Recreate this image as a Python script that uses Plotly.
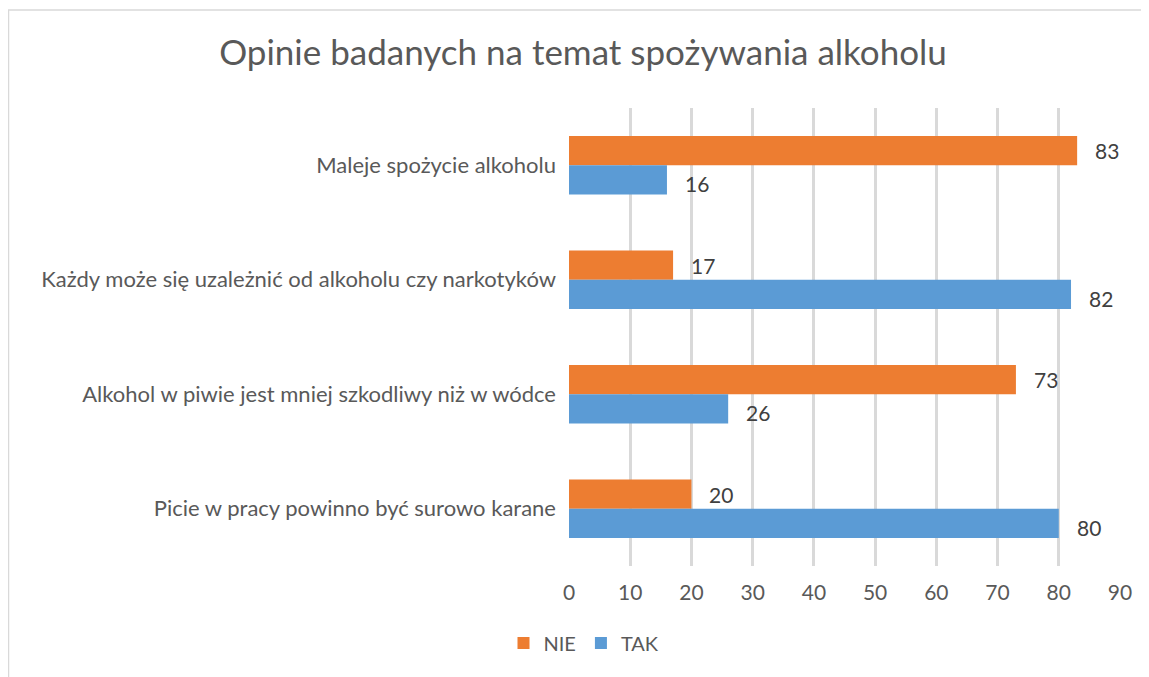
import plotly.graph_objects as go

categories = [
    "Maleje spożycie alkoholu",
    "Każdy może się uzależnić od alkoholu czy narkotyków",
    "Alkohol w piwie jest mniej szkodliwy niż w wódce",
    "Picie w pracy powinno być surowo karane",
]
nie_values = [83, 17, 73, 20]
tak_values = [16, 82, 26, 80]
x_ticks = [0, 10, 20, 30, 40, 50, 60, 70, 80, 90]

FONT = "Lato"
# page body has an 8px margin; figure spans screen 8..1149 x 8..677
W, H = 1141, 669
OX, OY = 8, 8
ml = 569 - OX
mt = 108 - OY
mr = W - (1120 - OX)
mb = H - (566 - OY)
BARGAP = 0.49
half = (1 - BARGAP) / 4

fig = go.Figure()
fig.add_trace(go.Bar(name="NIE", y=categories, x=nie_values, orientation="h",
                     marker=dict(color="#ED7D31", line=dict(width=0))))
fig.add_trace(go.Bar(name="TAK", y=categories, x=tak_values, orientation="h",
                     marker=dict(color="#5B9BD5", line=dict(width=0))))

ann = []
for vals, off, ys in ((nie_values, -half, 0), (tak_values, half, -4)):
    for i, v in enumerate(vals):
        ann.append(dict(x=v, y=i + off, xref="x", yref="y", text=str(v), showarrow=False,
                        xanchor="center", yanchor="middle", xshift=30, yshift=ys,
                        font=dict(family=FONT, size=21, color="#404040")))

pw = W - ml - mr
ph = H - mt - mb
fig.update_layout(
    width=W, height=H,
    margin=dict(l=ml, r=mr, t=mt, b=mb),
    paper_bgcolor="white", plot_bgcolor="white",
    barmode="group", bargap=BARGAP, bargroupgap=0,
    title=dict(text="Opinie badanych na temat spożywania alkoholu", x=(583 - OX) / W, xanchor="center",
               y=1 - (53 - OY) / H, yanchor="middle",
               font=dict(family=FONT, size=35, color="#595959")),
    legend=dict(orientation="h", x=(584 - 569) / pw, xanchor="center",
                y=-(643 - 566) / ph, yanchor="middle",
                font=dict(family=FONT, size=20, color="#595959"),
                itemwidth=30, traceorder="normal"),
    annotations=ann,
    shapes=[dict(type="rect", xref="paper", yref="paper",
                 x0=(8.5 - 569) / pw, x1=(1160 - 569) / pw,
                 y0=-(700 - 566) / ph, y1=1 + (108 - 10) / ph,
                 line=dict(color="#d9d9d9", width=1.5), layer="below")],
)
fig.update_xaxes(range=[0, 90], tickvals=x_ticks, showgrid=True, gridcolor="#d9d9d9", gridwidth=2.5,
                 zeroline=False, showline=False, ticks="", ticklabelstandoff=12,
                 tickfont=dict(family=FONT, size=21, color="#595959"))
fig.update_yaxes(type="category", categoryorder="array", categoryarray=categories, autorange="reversed",
                 showgrid=False, zeroline=False, showline=False, ticks="", ticklabelstandoff=12,
                 tickfont=dict(family=FONT, size=22, color="#595959"))

fig.write_html("out.html")
